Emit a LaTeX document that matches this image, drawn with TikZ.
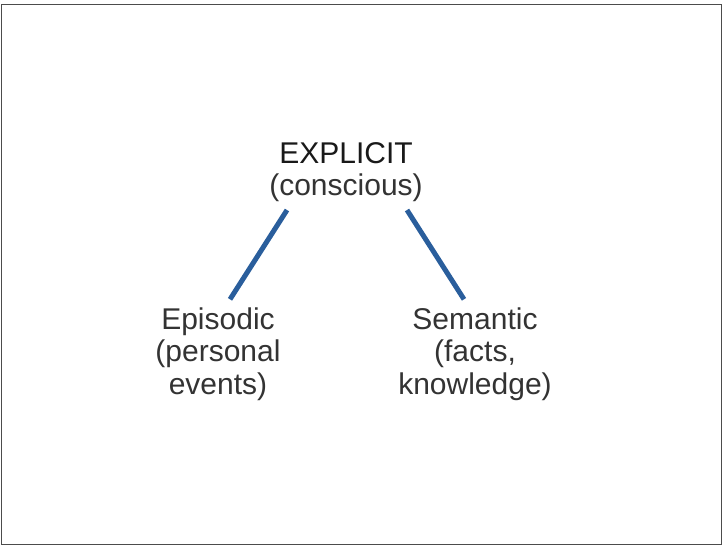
\documentclass[tikz,border=0pt]{standalone}
\usepackage{fontspec}
\setmainfont{Liberation Sans}
\usepackage{tikz}

\begin{document}
\begin{tikzpicture}[x=1pt, y=-1pt,
label/.style={align=center, inner sep=0pt, text=black!80, font=\fontsize{30}{32.5}\selectfont},
link/.style={draw={rgb,255:red,42;green,94;blue,156}, line width=5pt}
]
\useasboundingbox (0,0) rectangle (723,546);
\draw[black!70, line width=1.5pt] (1.5,4.5) rectangle (721.5,544.5);
%Nodes
\node[label]      (explicit)   at (346,172)      {\textcolor{black!90}{EXPLICIT}\\(conscious)};
\node[label]      (episodic)   at (218,354)      {Episodic\\(personal\\events)};
\node[label]      (semantic)   at (475,354)      {Semantic\\(facts,\\knowledge)};
%Lines
\draw[link] ([xshift=-59pt,yshift=-8pt]explicit.south) -- ([xshift=12pt,yshift=8pt]episodic.north);
\draw[link] ([xshift=61pt,yshift=-8pt]explicit.south) -- ([xshift=-11pt,yshift=8pt]semantic.north);
\end{tikzpicture}
\end{document}
